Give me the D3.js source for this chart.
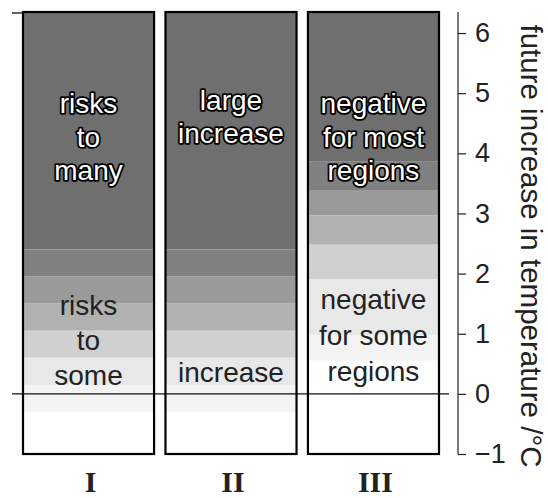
<!DOCTYPE html>
<html><head><meta charset="utf-8">
<script src="https://cdn.jsdelivr.net/npm/d3@7"></script>
<style>html,body{margin:0;padding:0;background:#fff;}</style>
</head><body>
<svg id="c" width="548" height="498"></svg>
<script>
const categories = ["I", "II", "III"];
// band boundaries (°C), top to bottom, per column
const bandsI   = [2.4, 1.95, 1.5, 1.05, 0.6, 0.15, -0.3];
const bandsII  = [2.4, 1.95, 1.5, 1.05, 0.6, 0.15, -0.3];
const bandsIII = [3.87, 3.39, 2.97, 2.48, 1.91, 0.98, 0.55];
const shades = ["#6f6f6f", "#808080", "#9a9a9a", "#b1b1b1", "#d0d0d0", "#e8e8e8", "#f3f3f3", "#ffffff"];
const upperLabels = [["risks", "to", "many"], ["large", "increase"], ["negative", "for most", "regions"]];
const lowerLabels = [["risks", "to", "some"], ["increase"], ["negative", "for some", "regions"]];
const tickValues = [-1, 0, 1, 2, 3, 4, 5, 6];
const yDomain = [-1, 6.35];
const axisTitle = "future increase in temperature /\u00b0C";

const svg = d3.select("#c");
const x = d3.scaleBand().domain(categories).range([23, 439]).paddingInner(0.08).paddingOuter(0);
const y = d3.scaleLinear().domain(yDomain).range([454, 12]);
const allBands = [bandsI, bandsII, bandsIII];

const font = "'Liberation Sans', Arial, Helvetica, sans-serif";

categories.forEach((c, i) => {
  const g = svg.append("g");
  const edges = [yDomain[1]].concat(allBands[i]).concat([yDomain[0]]);
  const segs = d3.range(edges.length - 1).map(k => ({top: edges[k], bot: edges[k + 1], fill: shades[k]}));
  g.selectAll("rect.band").data(segs).join("rect")
    .attr("x", x(c)).attr("width", x.bandwidth())
    .attr("y", d => y(d.top)).attr("height", d => y(d.bot) - y(d.top))
    .attr("fill", d => d.fill);
});

// zero line and top mark
svg.append("line").attr("x1", 12).attr("x2", 449).attr("y1", y(0)).attr("y2", y(0))
  .attr("stroke", "#111").attr("stroke-width", 1.3);
svg.append("line").attr("x1", 12).attr("x2", 23).attr("y1", y(yDomain[1]) + 1).attr("y2", y(yDomain[1]) + 1)
  .attr("stroke", "#111").attr("stroke-width", 1.3);

// box outlines
svg.selectAll("rect.box").data(categories).join("rect")
  .attr("x", d => x(d)).attr("width", x.bandwidth())
  .attr("y", y(yDomain[1])).attr("height", y(yDomain[0]) - y(yDomain[1]))
  .attr("fill", "none").attr("stroke", "#000").attr("stroke-width", 2.2);

// labels
const upperBase = [113, 110, 113];
const upperStep = [33.5, 33, 33.5];
const lowerBase = [315, 382, 309];
const lowerStep = [35, 35, 36];
function addLines(lines, cx, base, step, styler) {
  const t = svg.append("text").attr("text-anchor", "middle")
    .style("font-family", font).style("font-size", "28px");
  styler(t);
  t.selectAll("tspan").data(lines).join("tspan")
    .attr("x", cx).attr("y", (d, k) => base + k * step).text(d => d);
}
categories.forEach((c, i) => {
  const cx = x(c) + x.bandwidth() / 2;
  addLines(upperLabels[i], cx, upperBase[i], upperStep[i], t => t.attr("fill", "none")
    .attr("stroke", "#000").attr("stroke-width", 3.6).attr("stroke-linejoin", "round"));
  addLines(upperLabels[i], cx, upperBase[i], upperStep[i], t => t.attr("fill", "#fff"));
  addLines(lowerLabels[i], cx, lowerBase[i], lowerStep[i], t => t.attr("fill", "#222"));
  svg.append("text").attr("x", cx + 2).attr("y", 492).attr("text-anchor", "middle")
    .style("font-family", "'Liberation Serif', 'Times New Roman', serif").style("font-size", "30px")
    .style("font-weight", "bold").attr("fill", "#222").text(c);
});

// right axis
const axis = d3.axisRight(y).tickValues(tickValues).tickSize(8).tickPadding(9)
  .tickFormat(d => d < 0 ? "\u2212" + Math.abs(d) : d);
const ag = svg.append("g").attr("transform", "translate(458,0)").call(axis);
ag.select(".domain").attr("d", `M0,${y(yDomain[1])}V${y(yDomain[0])}`)
  .attr("stroke", "#222").attr("stroke-width", 1.2);
ag.selectAll(".tick line").attr("stroke", "#222").attr("stroke-width", 1.2);
ag.selectAll(".tick text").style("font-family", font).style("font-size", "27px").attr("fill", "#222");

svg.append("text").attr("transform", `translate(521,246) rotate(90)`)
  .attr("text-anchor", "middle").style("font-family", font).style("font-size", "29.5px").attr("fill", "#222")
  .text(axisTitle);
</script>
</body></html>
